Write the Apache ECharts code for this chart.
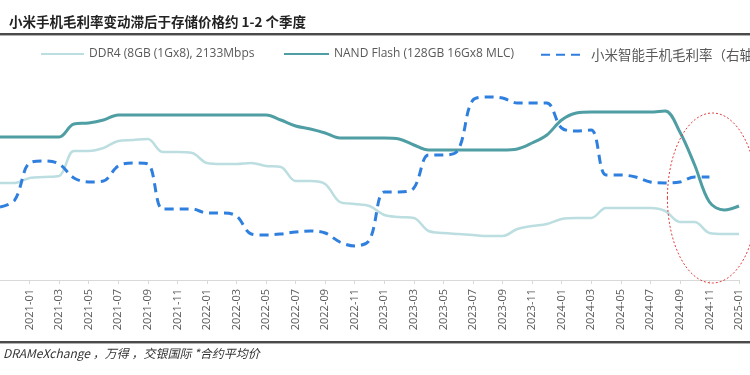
<!DOCTYPE html>
<html>
<head>
<meta charset="utf-8">
<script src="https://cdn.jsdelivr.net/npm/echarts@6/dist/echarts.min.js"></script>
<style>
    html, body { margin: 0; padding: 0; background: #fff; }
    #chart { width: 750px; height: 375px; }
</style>
</head>
<body>
<div id="chart"></div>
<script>
    // months on the x axis (2020-11 is just off the left edge)
    var months = ['2020-11','2020-12',
        '2021-01','2021-02','2021-03','2021-04','2021-05','2021-06','2021-07','2021-08','2021-09','2021-10','2021-11','2021-12',
        '2022-01','2022-02','2022-03','2022-04','2022-05','2022-06','2022-07','2022-08','2022-09','2022-10','2022-11','2022-12',
        '2023-01','2023-02','2023-03','2023-04','2023-05','2023-06','2023-07','2023-08','2023-09','2023-10','2023-11','2023-12',
        '2024-01','2024-02','2024-03','2024-04','2024-05','2024-06','2024-07','2024-08','2024-09','2024-10','2024-11','2024-12',
        '2025-01'];

    // no value axis is printed in the picture, so these are relative levels read off it
    var ddr4 = [97,97,102,103,104,129,129,132,139,140,141,128,128,127,117,116,116,117,114,113,99,99,96,78,76,74,
        65,63,62,49,47,46,45,44,44,51,54,56,61,62,62,72,72,72,72,69,58,58,47,46,46];
    var nand = [143,143,143,143,143,156,157,160,165,165,165,165,165,165,165,165,165,165,165,160,154,151,147,142,142,142,
        142,141,135,130,130,130,130,130,130,131,137,145,160,167,168,168,168,168,168,169,148,115,78,70,74];
    var margin = [73,80,117,119,116,102,98,99,114,117,116,71,71,71,67,67,64,46,45,46,48,49,47,38,34,40,
        88,88,92,125,125,130,180,183,182,177,177,177,152,149,150,105,105,103,98,97,98,103,103,null,null];

    var name_ddr4 = 'DDR4 (8GB (1Gx8), 2133Mbps';
    var name_nand = 'NAND Flash (128GB 16Gx8 MLC)';
    var name_margin = '小米智能手机毛利率（右轴）';

    var myChart = echarts.init(document.getElementById('chart'));
    var everyOther = function (i) { return i >= 2 && i % 2 === 0; };
    var legendText = {color: '#595959', fontSize: 12, fontFamily: 'Open Sans'};
    // the legend draws a symbol in the middle of each line icon: hide it
    var noDot = {opacity: 0};

    var option = {
        animation: false,
        grid: {left: -6, right: 11, top: 40, bottom: 95},
        legend: [
            {data: [name_ddr4], left: 40, top: 48, padding: 0, itemWidth: 43, itemHeight: 14, itemStyle: noDot, textStyle: legendText},
            {data: [name_nand], left: 283, top: 48, padding: 0, itemWidth: 45, itemHeight: 14, itemStyle: noDot, textStyle: legendText},
            {data: [name_margin], left: 540, top: 48, padding: 0, itemWidth: 45, itemHeight: 14, itemStyle: noDot,
                textStyle: {color: '#595959', fontSize: 13.5, fontFamily: 'Noto Sans CJK SC'}}
        ],
        xAxis: {
            type: 'category', data: months, boundaryGap: false,
            axisLine: {lineStyle: {color: '#d9d9d9', width: 1}},
            axisTick: {interval: everyOther, length: 4, lineStyle: {color: '#d9d9d9'}},
            axisLabel: {interval: everyOther, rotate: 90, margin: 9, color: '#595959', fontSize: 11, fontFamily: 'Open Sans'}
        },
        yAxis: [
            {type: 'value', min: 0, max: 240, show: false},
            {type: 'value', min: 0, max: 240, show: false}
        ],
        series: [
            {name: name_ddr4, type: 'line', data: ddr4, symbol: 'none', smooth: 0.35,
                lineStyle: {color: '#bcdee0', width: 2.5}, itemStyle: {color: '#bcdee0'}},
            {name: name_nand, type: 'line', data: nand, symbol: 'none', smooth: 0.35,
                lineStyle: {color: '#4e9ea4', width: 3}, itemStyle: {color: '#4e9ea4'}},
            {name: name_margin, type: 'line', data: margin, yAxisIndex: 1, symbol: 'none', smooth: 0.35,
                lineStyle: {color: '#2f7fde', width: 3, type: [9, 6]}, itemStyle: {color: '#2f7fde'}}
        ]
    };
    myChart.setOption(option);

    // dotted ellipse round the last months, placed from data coordinates
    var c = myChart.convertToPixel({xAxisIndex: 0, yAxisIndex: 0}, ['2024-11', 82]);

    myChart.setOption({
        graphic: [
            {type: 'text', left: 9, top: 15, style: {text: '小米手机毛利率变动滞后于存储价格约 1-2 个季度',
                fill: '#222', fontSize: 13.5, fontWeight: 'bold', fontFamily: 'Noto Sans CJK SC'}},
            {type: 'rect', shape: {x: 0, y: 33, width: 750, height: 2}, style: {fill: '#4a4a4a'}},
            {type: 'rect', shape: {x: 0, y: 35, width: 750, height: 1}, style: {fill: '#b0b0b0'}},
            {type: 'rect', shape: {x: 0, y: 341, width: 750, height: 2}, style: {fill: '#4a4a4a'}},
            {type: 'rect', shape: {x: 0, y: 343, width: 750, height: 1}, style: {fill: '#b0b0b0'}},
            {type: 'text', left: 3, top: 347, style: {text: 'DRAMeXchange ，万得 ，交银国际 *合约平均价',
                fill: '#333', fontSize: 12, fontStyle: 'italic', fontFamily: 'Noto Sans CJK SC'}},
            {type: 'ellipse', shape: {cx: c[0] + 3, cy: c[1], rx: 45, ry: 85}, z: 100,
                style: {fill: 'none', stroke: '#e23c3c', lineWidth: 1, lineDash: [2, 2]}}
        ]
    });
</script>
</body>
</html>
